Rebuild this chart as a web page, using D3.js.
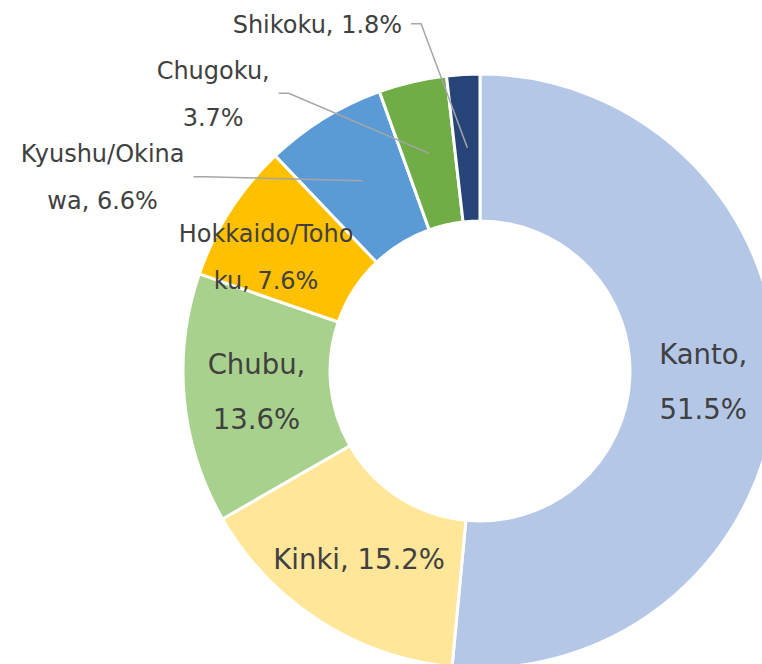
<!DOCTYPE html>
<html>
<head>
<meta charset="utf-8">
<script src="https://cdn.jsdelivr.net/npm/d3@7/dist/d3.min.js"></script>
<style>
  html, body { margin: 0; padding: 0; background: #fff; }
  #chart { width: 762px; height: 664px; overflow: hidden; }
</style>
</head>
<body>
<div id="chart"></div>
<script>
// ---------------- DATA ----------------
var regions = ["Kanto", "Kinki", "Chubu", "Hokkaido/Tohoku", "Kyushu/Okinawa", "Chugoku", "Shikoku"];
var shares = [51.5, 15.2, 13.6, 7.6, 6.6, 3.7, 1.8];
var sliceColors = ["#B4C7E7", "#FFE699", "#A9D18E", "#FFC000", "#5B9BD5", "#70AD47", "#264478"];

// where Excel wrapped each label (char index), null = one line
var wrapAt = [6, null, 6, 13, 12, 8, null];
// label nudges from the slice centroid (labels were dragged in the original)
var labelShift = [[0, 0], [0, 0], [-1, 0], [-26, 7], [-260, -4], [-216, -60], [-150, -124]];
var bigLabel = [true, true, true, false, false, false, false];
var leader = [false, false, false, false, true, true, true];

(function() {
    var width = 762,
        height = 664;

    var cx = 480, cy = 371,
        outerR = 297, innerR = 150;

    var svg = d3.select("#chart")
        .append("svg")
        .attr("width", width)
        .attr("height", height)
        .style("font-family", "'DejaVu Sans', Verdana, sans-serif");

    var g = svg.append("g")
        .attr("transform", "translate(" + cx + "," + cy + ")");

    var data = regions.map(function(r, i) {
        return { name: r, value: shares[i], i: i };
    });

    var pie = d3.pie()
        .sort(null)
        .value(function(d) { return d.value; });

    var arc = d3.arc()
        .innerRadius(innerR)
        .outerRadius(outerR);

    var arcs = pie(data);

    // slices
    g.selectAll(".slice")
        .data(arcs)
        .enter().append("path")
        .attr("class", "slice")
        .attr("d", arc)
        .attr("fill", function(d) { return sliceColors[d.data.i]; })
        .attr("stroke", "#fff")
        .attr("stroke-width", 3);

    // labels
    var labels = g.selectAll(".lbl")
        .data(arcs)
        .enter().append("g")
        .attr("class", "lbl");

    labels.each(function(d) {
        var i = d.data.i;
        var c = arc.centroid(d);
        var ax = c[0] + labelShift[i][0],
            ay = c[1] + labelShift[i][1];
        var fs = bigLabel[i] ? 27.5 : 24,
            lh = bigLabel[i] ? 55 : 47;
        var full = d.data.name + ", " + d.data.value.toFixed(1) + "%";
        var lines = wrapAt[i] == null ? [full] :
            [full.slice(0, wrapAt[i]), full.slice(wrapAt[i]).trim()];

        var t = d3.select(this).append("text")
            .attr("text-anchor", "middle")
            .attr("fill", "#404040")
            .attr("font-size", fs);

        lines.forEach(function(s, k) {
            t.append("tspan")
                .attr("x", ax)
                .attr("y", ay + (k - (lines.length - 1) / 2) * lh + fs * 0.36)
                .text(s);
        });

        if (leader[i]) {
            var bb = t.node().getBBox();
            var x0 = bb.x + bb.width + 9;
            d3.select(this).insert("polyline", "text")
                .attr("points", [[x0, ay], [x0 + 10, ay], c].map(function(p) { return p.join(","); }).join(" "))
                .attr("fill", "none")
                .attr("stroke", "#A6A6A6")
                .attr("stroke-width", 1.5);
        }
    });
})();
</script>
</body>
</html>
